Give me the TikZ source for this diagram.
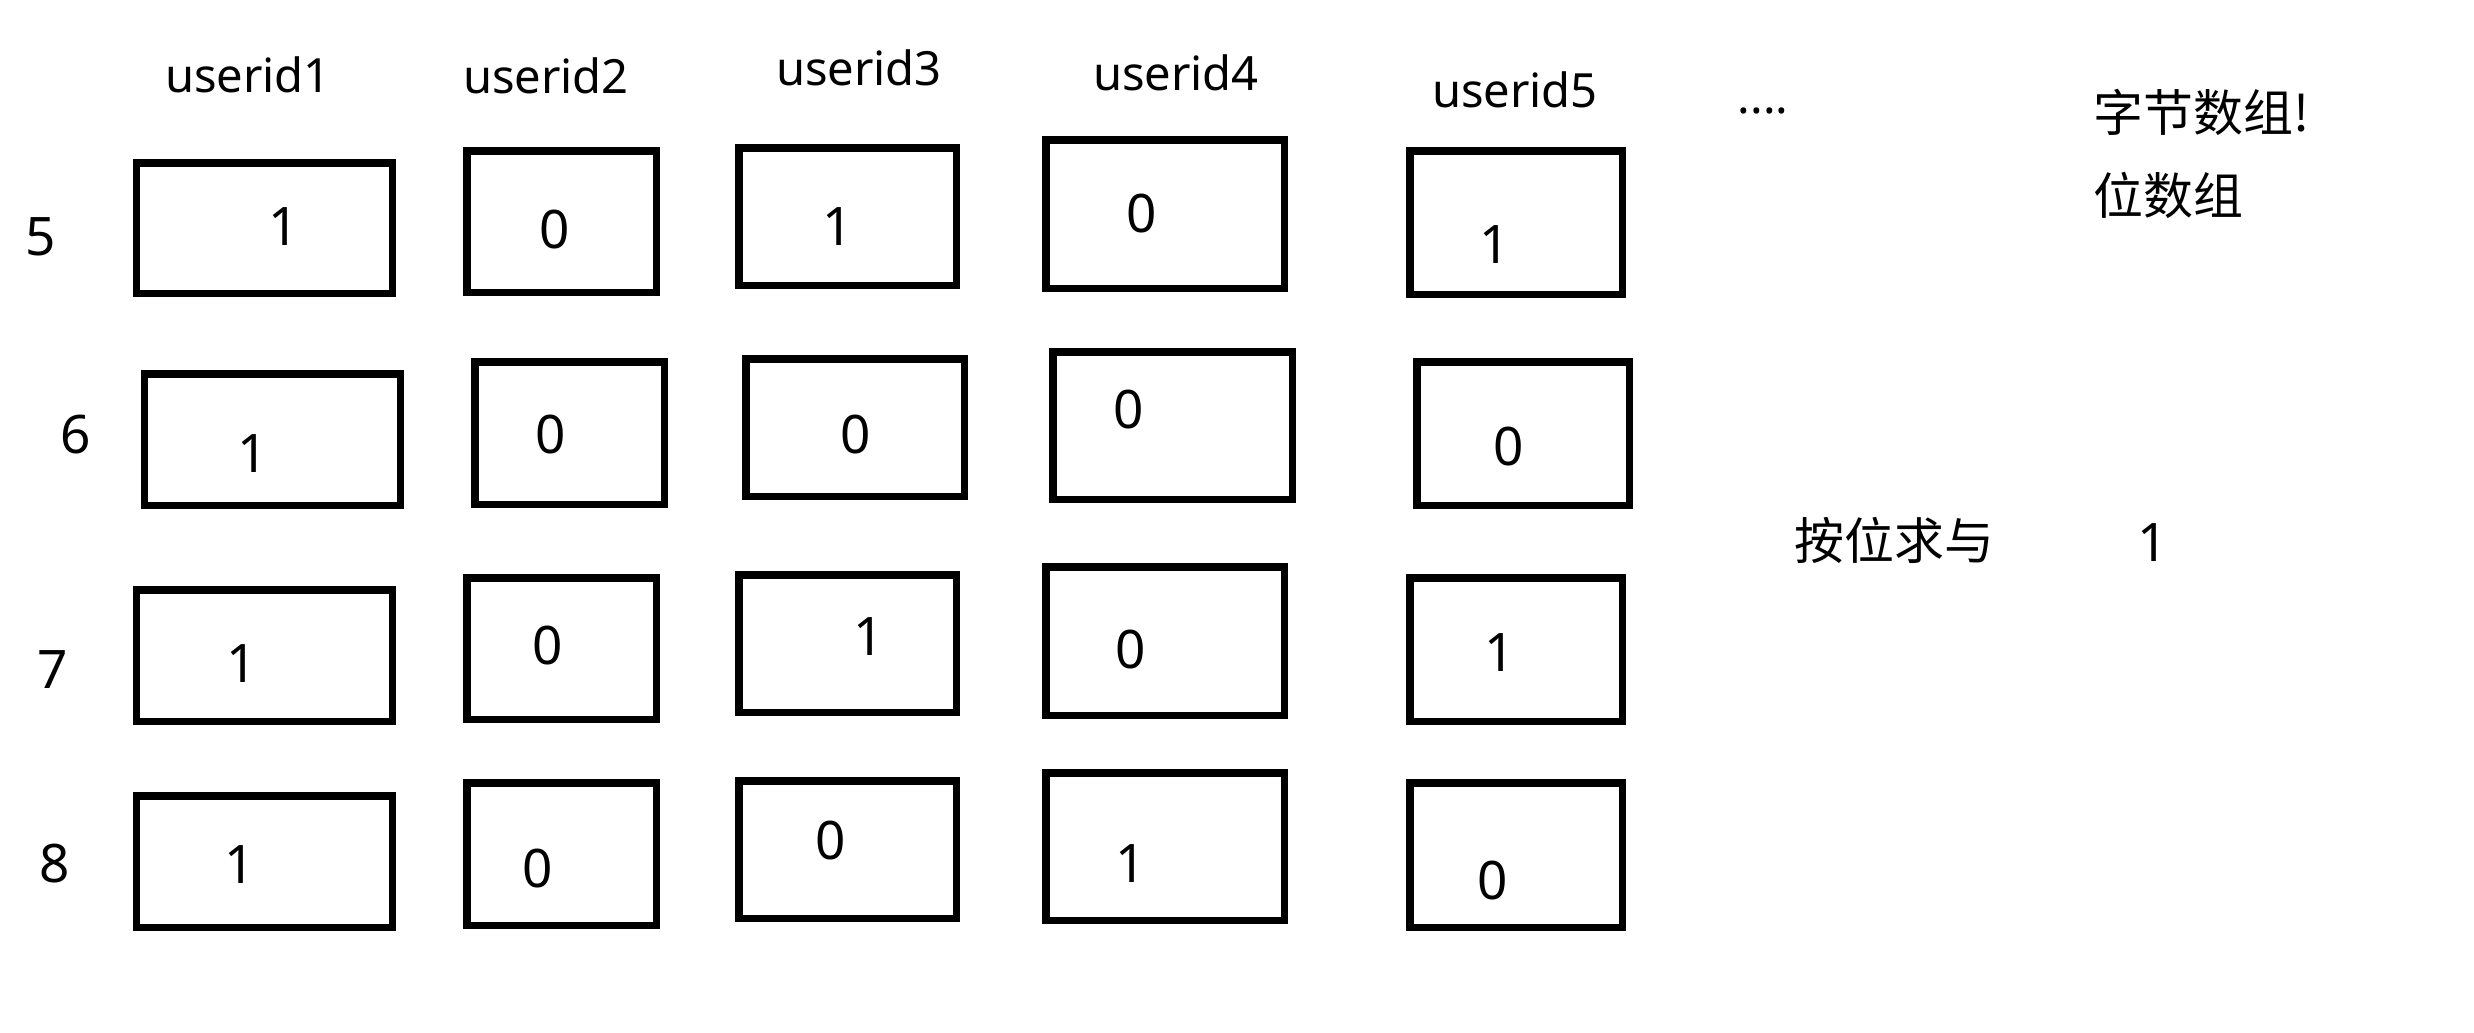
\documentclass[tikz,border=0pt]{standalone}
\usepackage{fontspec}
\setmainfont{Noto Sans}
\newfontfamily\cjk{Noto Sans CJK SC}
\newcommand\cellbox[5]{%
  \pgfmathsetmacro\cellW{(#4-7.5)*0.01}%
  \pgfmathsetmacro\cellH{(#5-7.5)*0.01}%
  \node[cell, minimum width=\cellW cm, minimum height=\cellH cm] (#1) at (#2,#3) {};}
\begin{document}
\begin{tikzpicture}[x=0.01cm,y=-0.01cm,
  cell/.style={draw, line width=0.075cm, inner sep=0pt, rectangle},
  dig/.style={font=\fontsize{15.1}{18}\selectfont, inner sep=0pt, anchor=base},
  uid/.style={font=\fontsize{13.4}{16}\selectfont, inner sep=0pt, anchor=base},
  zh/.style={font=\cjk\fontsize{14.2}{17}\selectfont, inner sep=0pt, anchor=base west}]
\useasboundingbox[fill=white] (0,0) rectangle (2474,1032);

% column headers
\node[uid] (u1) at (248,92) {userid1};
\node[uid] (u2) at (546,93) {userid2};
\node[uid] (u3) at (859,85) {userid3};
\node[uid] (u4) at (1176,90) {userid4};
\node[uid] (u5) at (1515,107) {userid5};
\node[uid] (dots) at (1763,113) {....};

% row labels
\node[dig] (r5) at (41,255) {5};
\node[dig] (r6) at (76,453) {6};
\node[dig] (r7) at (53,688) {7};
\node[dig] (r8) at (55,882) {8};

% boxes
\cellbox{b11}{264.5}{228}{263}{138}
\cellbox{b12}{561.5}{221.5}{197}{149}
\cellbox{b13}{847.5}{216.5}{225}{145}
\cellbox{b14}{1165}{214}{246}{156}
\cellbox{b15}{1516}{222.5}{220}{151}

\cellbox{b21}{272.5}{439.5}{263}{139}
\cellbox{b22}{569.5}{433}{197}{150}
\cellbox{b23}{855}{427.5}{226}{145}
\cellbox{b24}{1172.5}{425.5}{247}{155}
\cellbox{b25}{1523}{433.5}{220}{151}

\cellbox{b31}{264.5}{655.5}{263}{139}
\cellbox{b32}{561.5}{648.5}{197}{149}
\cellbox{b33}{847.5}{643.5}{225}{145}
\cellbox{b34}{1165}{641}{246}{156}
\cellbox{b35}{1516}{649.5}{220}{151}

\cellbox{b41}{264.5}{861.5}{263}{139}
\cellbox{b42}{561.5}{854}{197}{150}
\cellbox{b43}{847.5}{849.5}{225}{145}
\cellbox{b44}{1165}{846.5}{246}{155}
\cellbox{b45}{1516}{855}{220}{152}

% digits
\node[dig] (d11) at (284,245) {1};
\node[dig] (d12) at (555,248) {0};
\node[dig] (d13) at (838,245) {1};
\node[dig] (d14) at (1142,232) {0};
\node[dig] (d15) at (1495,263) {1};

\node[dig] (d21) at (253,472) {1};
\node[dig] (d22) at (551,453) {0};
\node[dig] (d23) at (856,453) {0};
\node[dig] (d24) at (1129,428) {0};
\node[dig] (d25) at (1509,465) {0};

\node[dig] (d31) at (242,682) {1};
\node[dig] (d32) at (548,664) {0};
\node[dig] (d33) at (869,655) {1};
\node[dig] (d34) at (1131,668) {0};
\node[dig] (d35) at (1500,671) {1};

\node[dig] (d41) at (240,883) {1};
\node[dig] (d42) at (538,887) {0};
\node[dig] (d43) at (831,859) {0};
\node[dig] (d44) at (1131,882) {1};
\node[dig] (d45) at (1493,899) {0};

% notes
\node[zh] (n1) at (2093,131) {字节数组!};
\node[zh] (n2) at (2093,214) {位数组};
\node[zh] (n3) at (1794,559) {按位求与};
\node[dig] (n4) at (2153,561) {1};
\end{tikzpicture}
\end{document}
